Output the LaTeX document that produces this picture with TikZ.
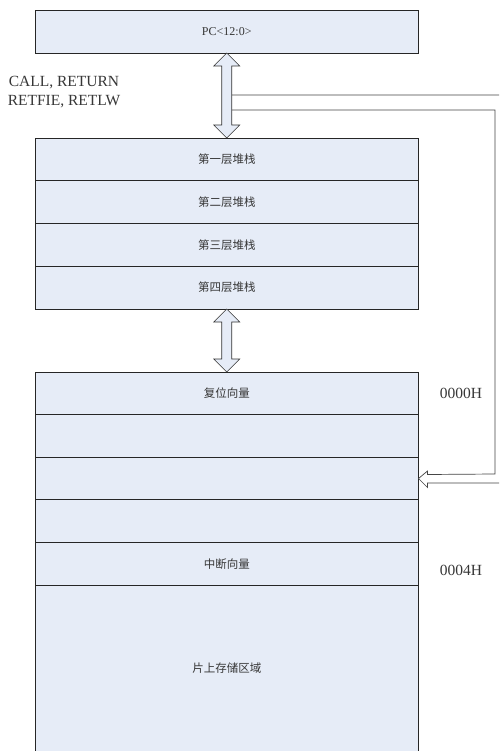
\documentclass[tikz,border=0pt]{standalone}
\usepackage{fontspec}
\setmainfont{Liberation Serif}
\newfontfamily\cjk{Noto Sans CJK SC}
\usetikzlibrary{calc}
\definecolor{cellfill}{RGB}{230,236,247}
\definecolor{txt}{RGB}{55,55,55}
\definecolor{linegray}{RGB}{70,70,70}
\tikzset{
  cell/.style={draw=black!85, line width=0.7pt, fill=cellfill, anchor=north west,
    minimum width=383.5, inner sep=0, outer sep=0, text=txt,
    font=\cjk\fontsize{11.5}{13}\selectfont},
  label/.style={text=txt, inner sep=0, font=\fontsize{15.5}{17}\selectfont},
  bigarrow/.style={draw=black!80, line width=0.6pt, fill=cellfill},
  hollow/.style={draw=linegray, line width=0.7pt, fill=white}
}
\begin{document}
\begin{tikzpicture}[x=1pt,y=-1pt]
\clip (0,0) rectangle (499,751);
\fill[white] (0,0) rectangle (499,751);
% PC register
\node[cell, minimum height=43, font=\fontsize{12}{14}\selectfont] (pc) at (35,10) {PC<12:0>};
% stack
\node[cell, minimum height=42.75] (s1) at (35,138) {第一层堆栈};
\node[cell, minimum height=42.75] (s2) at (35,180.75) {第二层堆栈};
\node[cell, minimum height=42.75] (s3) at (35,223.5) {第三层堆栈};
\node[cell, minimum height=42.75] (s4) at (35,266.25) {第四层堆栈};
% program memory
\node[cell, minimum height=42.6] (m1) at (35,372) {复位向量};
\node[cell, minimum height=42.6] (m2) at (35,414.6) {};
\node[cell, minimum height=42.6] (m3) at (35,457.2) {};
\node[cell, minimum height=42.6] (m4) at (35,499.8) {};
\node[cell, minimum height=42.6] (m5) at (35,542.4) {中断向量};
\node[cell, minimum height=180] (m6) at (35,585) {};
\node[text=txt, font=\cjk\fontsize{11.5}{13}\selectfont] (m6t) at (226.75,668) {片上存储区域};
% labels
\node[label, align=center] (ops) at (64,92.5) {CALL, RETURN\\[2pt]RETFIE, RETLW};
\node[label] (a0) at (461,393) {0000H};
\node[label] (a4) at (461,570) {0004H};
% hollow connector to program memory
\coordinate (c1) at (232,95);
\coordinate (c2) at (232,110);
\coordinate (tip) at (m3.east);
\draw[hollow] (c1) -- (510,95) -- (510,483) -- ($(tip)+(9,4.5)$) -- ($(tip)+(9,9)$) -- (tip)
  -- ($(tip)+(9,-7.5)$) -- ($(tip)+(9,-4)$) -- (495,474) -- (495,110) -- (c2);
% double arrow PC <-> stack
\coordinate (t1) at (pc.south);
\coordinate (b1) at (s1.north);
\draw[bigarrow] (t1) -- ($(t1)+(13,13)$) -- ($(t1)+(5,13)$) -- ($(b1)+(5,-13)$) -- ($(b1)+(13,-13)$)
  -- (b1) -- ($(b1)+(-13,-13)$) -- ($(b1)+(-5,-13)$) -- ($(t1)+(-5,13)$) -- ($(t1)+(-13,13)$) -- cycle;
% double arrow stack <-> memory
\coordinate (t2) at (s4.south);
\coordinate (b2) at (m1.north);
\draw[bigarrow] (t2) -- ($(t2)+(13,13)$) -- ($(t2)+(5,13)$) -- ($(b2)+(5,-13)$) -- ($(b2)+(13,-13)$)
  -- (b2) -- ($(b2)+(-13,-13)$) -- ($(b2)+(-5,-13)$) -- ($(t2)+(-5,13)$) -- ($(t2)+(-13,13)$) -- cycle;
\end{tikzpicture}
\end{document}
